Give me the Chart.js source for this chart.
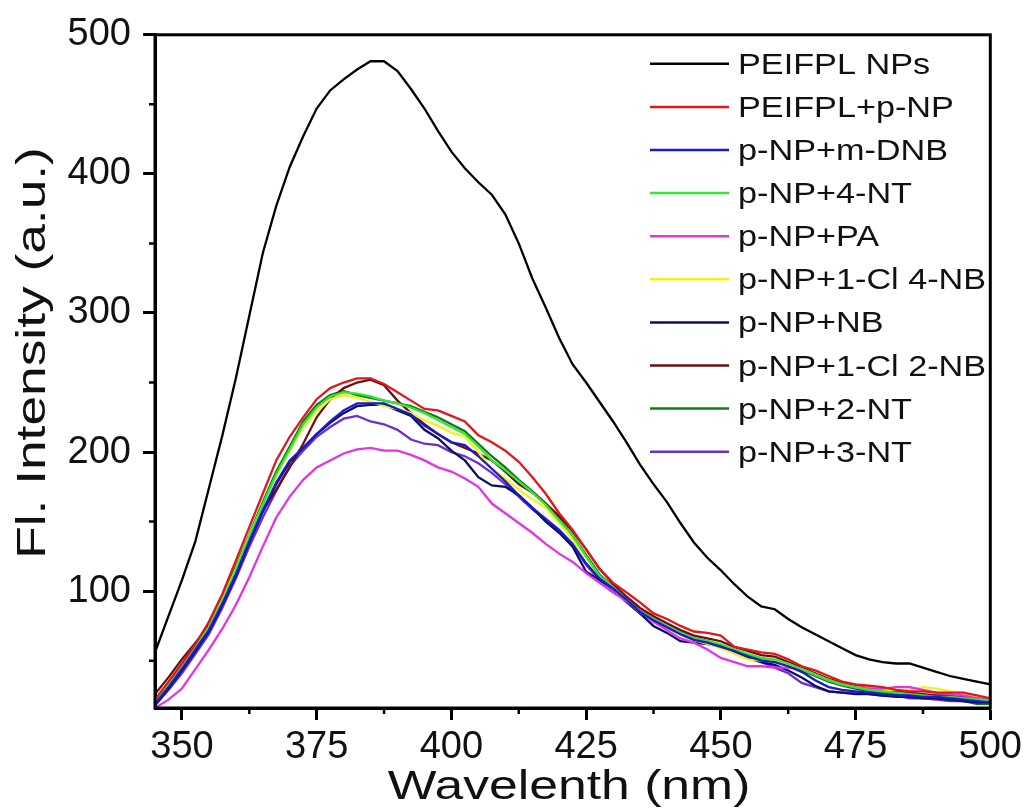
<!DOCTYPE html>
<html lang="en">
<head>
  <meta charset="UTF-8" />
  <title>Fluorescence spectra</title>
  <script src="https://cdn.jsdelivr.net/npm/chart.js"></script>
  <style>
    html, body { margin: 0; padding: 0; background: #fff; }
    #wrap { width: 1027px; height: 812px; }
  </style>
</head>
<body>
  <div id="wrap"><canvas id="myChart" width="1027" height="812"></canvas></div>

  <script>
    // wavelength axis (nm), every 2.5 nm
    const wavelengths = [
      345, 347.5, 350, 352.5, 355, 357.5, 360, 362.5, 365, 367.5,
      370, 372.5, 375, 377.5, 380, 382.5, 385, 387.5, 390, 392.5,
      395, 397.5, 400, 402.5, 405, 407.5, 410, 412.5, 415, 417.5,
      420, 422.5, 425, 427.5, 430, 432.5, 435, 437.5, 440, 442.5,
      445, 447.5, 450, 452.5, 455, 457.5, 460, 462.5, 465, 467.5,
      470, 472.5, 475, 477.5, 480, 482.5, 485, 487.5, 490, 492.5,
      495, 497.5, 500
    ];

    const peifplNPs = [
      56, 82, 108, 136, 174, 212, 253, 298, 343, 377,
      405, 427, 447, 460, 468, 475, 481, 481, 474, 461,
      447, 431, 416, 404, 394, 385, 371, 350, 325, 304,
      282, 263, 250, 236, 222, 207, 191, 177, 164, 149,
      135, 124, 115, 105, 96, 89, 87, 80, 74, 69,
      64, 59, 54, 51, 49, 48, 48, 45, 42, 39,
      37, 35, 33
    ];
    const peifplPNP = [
      22, 35, 48, 62, 78, 98, 122, 146, 170, 194,
      211, 225, 238, 246, 250, 253, 253, 249, 243, 237,
      231, 230, 226, 222, 212, 207, 201, 193, 182, 170,
      156, 144, 130, 116, 106, 99, 92, 84, 80, 75,
      71, 70, 68, 60, 58, 56, 55, 51, 46, 43,
      39, 35, 33, 32, 31, 29, 28, 28, 27, 27,
      27, 25, 23
    ];
    const mDNB = [
      19, 31, 44, 58, 72, 91, 112, 136, 158, 178,
      194, 203, 213, 222, 230, 235, 235, 235, 231, 227,
      219, 213, 207, 205, 197, 188, 179, 169, 160, 152,
      144, 134, 120, 109, 102, 94, 85, 79, 74, 69,
      65, 63, 60, 57, 53, 50, 49, 46, 42, 36,
      31, 29, 28, 27, 26, 25, 25, 24, 24, 23,
      22, 21, 20
    ];
    const nt4 = [
      20, 33, 46, 60, 74, 93, 115, 139, 162, 184,
      202, 220, 232, 240, 243, 242, 240, 237, 235, 232,
      228, 223, 218, 213, 204, 194, 187, 179, 171, 162,
      151, 140, 125, 111, 103, 94, 85, 80, 75, 70,
      66, 64, 62, 58, 55, 52, 51, 48, 44, 40,
      36, 33, 31, 29, 28, 27, 26, 25, 24, 24,
      23, 22, 22
    ];
    const pa = [
      16, 22, 30, 44, 58, 73, 90, 110, 132, 153,
      168, 180, 189, 194, 199, 202, 203, 201, 201, 198,
      194, 189, 186, 181, 175, 163, 156, 149, 142, 134,
      127, 121, 113, 106, 99, 93, 86, 78, 72, 66,
      63, 58, 52, 49, 46, 46, 45, 45, 44, 40,
      36, 33, 31, 30, 30, 31, 31, 29, 27, 26,
      25, 23, 22
    ];
    const cl4NB = [
      20, 33, 46, 60, 74, 94, 116, 140, 162, 183,
      201, 218, 229, 238, 241, 239, 236, 233, 231, 228,
      223, 219, 214, 211, 200, 188, 181, 173, 166, 160,
      149, 137, 124, 110, 102, 94, 85, 79, 74, 69,
      65, 62, 59, 55, 51, 50, 50, 47, 44, 40,
      36, 33, 31, 30, 29, 29, 29, 31, 30, 28,
      27, 24, 23
    ];
    const nb = [
      18, 30, 43, 57, 71, 90, 111, 135, 157, 177,
      193, 203, 213, 221, 228, 233, 234, 234, 230, 226,
      216, 210, 201, 194, 182, 176, 175, 169, 160, 150,
      142, 132, 114, 108, 102, 93, 84, 75, 70, 64,
      63, 62, 60, 56, 52, 49, 47, 43, 38, 32,
      28, 27, 26, 26, 25, 24, 24, 23, 23, 22,
      21, 20, 20
    ];
    const cl2NB = [
      26, 38, 51, 63, 75, 93, 114, 137, 158, 173,
      189, 206, 225, 238, 246, 250, 252, 248, 237, 228,
      220, 213, 207, 203, 199, 194, 186, 177, 171, 163,
      154, 143, 130, 116, 105, 96, 88, 82, 77, 72,
      68, 66, 64, 60, 57, 54, 53, 49, 45, 41,
      37, 34, 32, 30, 29, 28, 27, 26, 25, 25,
      24, 23, 22
    ];
    const nt2 = [
      21, 34, 47, 61, 76, 96, 118, 141, 164, 186,
      204, 222, 234, 241, 244, 241, 239, 237, 235, 233,
      229, 225, 220, 215, 206, 197, 189, 180, 172, 163,
      152, 140, 126, 112, 103, 95, 86, 80, 75, 70,
      66, 64, 61, 58, 54, 51, 50, 47, 43, 39,
      35, 32, 30, 28, 27, 26, 25, 24, 23, 22,
      21, 19, 19
    ];
    const nt3 = [
      18, 29, 41, 55, 69, 88, 109, 132, 153, 172,
      190, 201, 211, 218, 224, 226, 222, 220, 216, 209,
      206, 205, 200, 197, 192, 185, 177, 168, 159, 151,
      143, 133, 119, 108, 101, 92, 84, 79, 74, 69,
      65, 63, 60, 56, 52, 49, 45, 41, 34, 31,
      28, 27, 27, 26, 25, 25, 23, 23, 22, 21,
      21, 20, 20
    ];

    const seriesLabels = [
      'PEIFPL NPs', 'PEIFPL+p-NP', 'p-NP+m-DNB', 'p-NP+4-NT', 'p-NP+PA',
      'p-NP+1-Cl 4-NB', 'p-NP+NB', 'p-NP+1-Cl 2-NB', 'p-NP+2-NT', 'p-NP+3-NT'
    ];
    const seriesValues = [peifplNPs, peifplPNP, mDNB, nt4, pa, cl4NB, nb, cl2NB, nt2, nt3];
    const seriesColors = [
      '#000000', '#e3171b', '#1a1acd', '#33e633', '#e632e6',
      '#f2f21e', '#0d0d66', '#6e0f0f', '#127a12', '#6b2ed6'
    ];

    const xTitle = 'Wavelenth (nm)';
    const yTitle = 'Fl. Intensity (a.u.)';
    const xMinor = [362.5, 387.5, 412.5, 437.5, 462.5, 487.5];
    const yMinor = [50, 150, 250, 350, 450];

    const FONT = "'Liberation Sans', Arial, sans-serif";

    // box frame, minor ticks, axis titles (the originals are drawn wide) and the legend
    const extras = {
      id: 'extras',
      afterDraw(chart) {
        const { ctx, chartArea: a, scales: { x, y } } = chart;
        ctx.save();
        ctx.strokeStyle = '#000';
        ctx.lineWidth = 3;
        ctx.strokeRect(a.left, a.top, a.right - a.left, a.bottom - a.top);

        ctx.lineWidth = 2.5;
        ctx.beginPath();
        xMinor.forEach(v => {
          const px = x.getPixelForValue(v);
          ctx.moveTo(px, a.bottom);
          ctx.lineTo(px, a.bottom + 6);
        });
        yMinor.forEach(v => {
          const py = y.getPixelForValue(v);
          ctx.moveTo(a.left, py);
          ctx.lineTo(a.left - 6, py);
        });
        ctx.stroke();

        ctx.fillStyle = '#111';
        ctx.textAlign = 'center';
        ctx.textBaseline = 'alphabetic';
        ctx.font = '41px ' + FONT;

        ctx.save();
        ctx.translate(569, 799);
        ctx.scale(1.26, 1);
        ctx.fillText(xTitle, 0, 0);
        ctx.restore();

        ctx.save();
        ctx.translate(45, 353);
        ctx.rotate(-Math.PI / 2);
        ctx.scale(1.3, 1);
        ctx.fillText(yTitle, 0, 0);
        ctx.restore();

        ctx.font = '29px ' + FONT;
        ctx.textAlign = 'left';
        chart.data.datasets.forEach((ds, i) => {
          const ly = a.top + 29 + i * 43.1;
          ctx.strokeStyle = ds.borderColor;
          ctx.lineWidth = 2.5;
          ctx.beginPath();
          ctx.moveTo(650, ly);
          ctx.lineTo(729, ly);
          ctx.stroke();
          ctx.save();
          ctx.translate(738, ly + 10);
          ctx.scale(1.18, 1);
          ctx.fillText(ds.label, 0, 0);
          ctx.restore();
        });
        ctx.restore();
      }
    };

    const datasets = seriesLabels.map((label, i) => ({
      label: label,
      data: wavelengths.map((w, j) => ({ x: w, y: seriesValues[i][j] })),
      borderColor: seriesColors[i],
      backgroundColor: seriesColors[i],
      borderWidth: 2.3,
      pointRadius: 0,
      fill: false,
      tension: 0
    }));

    const ctx = document.getElementById('myChart').getContext('2d');
    new Chart(ctx, {
      type: 'line',
      data: { datasets: datasets },
      plugins: [extras],
      options: {
        responsive: false,
        animation: false,
        devicePixelRatio: 1,
        layout: { padding: { top: 33, right: 36, bottom: 0, left: 0 } },
        plugins: {
          legend: { display: false },
          tooltip: { enabled: false }
        },
        scales: {
          x: {
            type: 'linear',
            min: 345,
            max: 500,
            afterFit: s => { s.height = 104; },
            ticks: {
              stepSize: 25,
              includeBounds: false,
              autoSkip: false,
              maxRotation: 0,
              padding: 5,
              color: '#111',
              font: { size: 38, family: FONT }
            },
            grid: { drawOnChartArea: false, tickLength: 12, tickWidth: 3, tickColor: '#000' },
            border: { color: '#000', width: 3 },
            title: { display: false }
          },
          y: {
            min: 16,
            max: 500,
            afterFit: s => { s.width = 155; },
            ticks: {
              stepSize: 100,
              includeBounds: false,
              autoSkip: false,
              padding: 12,
              color: '#111',
              font: { size: 38, family: FONT }
            },
            grid: { drawOnChartArea: false, tickLength: 12, tickWidth: 3, tickColor: '#000' },
            border: { color: '#000', width: 3 },
            title: { display: false }
          }
        }
      }
    });
  </script>
</body>
</html>
